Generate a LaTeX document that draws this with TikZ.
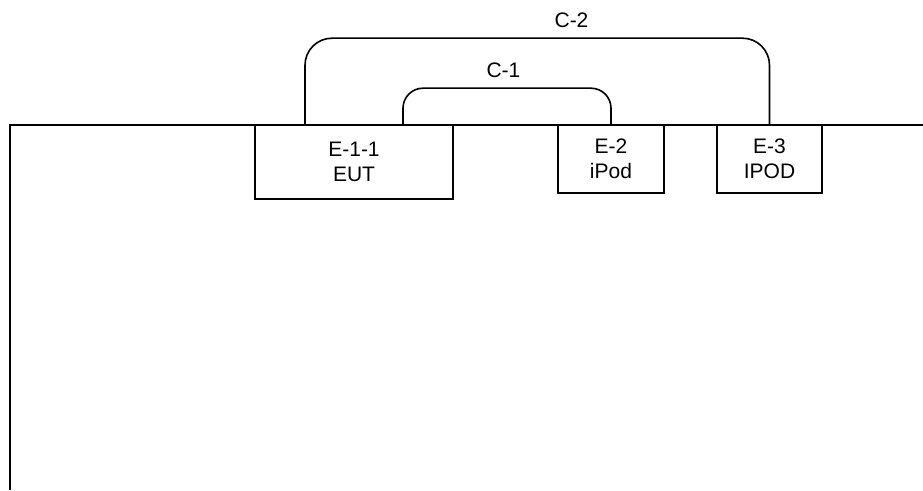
\documentclass[tikz,border=0pt]{standalone}
\usepackage{fontspec}
\setmainfont{Liberation Sans}
\begin{document}
\begin{tikzpicture}[x=1pt,y=1pt,
  line/.style={draw=black, line width=1.6pt},
  unit/.style={line, fill=white, inner sep=0pt, align=center,
    font=\fontsize{21}{25}\selectfont},
  lbl/.style={font=\fontsize{21}{25}\selectfont, inner sep=0pt, anchor=base}]
\useasboundingbox (0,0) rectangle (923,490);
% frame
\coordinate (fr) at (923,365);
\coordinate (tl) at (10,365);
\coordinate (bl) at (10,0);
\draw[line] (fr) -- (tl) -- (bl);
% units
\node[unit, minimum width=198pt, minimum height=74pt] (e11) at (354,328) {E-1-1\\EUT};
\node[unit, minimum width=106pt, minimum height=68pt] (e2) at (611,331) {E-2\\iPod};
\node[unit, minimum width=105pt, minimum height=68pt] (e3) at (769.5,331) {E-3\\IPOD};
% cables
\draw[line, rounded corners=27pt] ([xshift=-49pt]e11.north) -- ++(0,86) -| (e3.north);
\draw[line, rounded corners=20pt] ([xshift=49pt]e11.north) -- ++(0,36) -| (e2.north);
% labels
\node[lbl] (c2) at (571.5,462) {C-2};
\node[lbl] (c1) at (503.5,412) {C-1};
\end{tikzpicture}
\end{document}
